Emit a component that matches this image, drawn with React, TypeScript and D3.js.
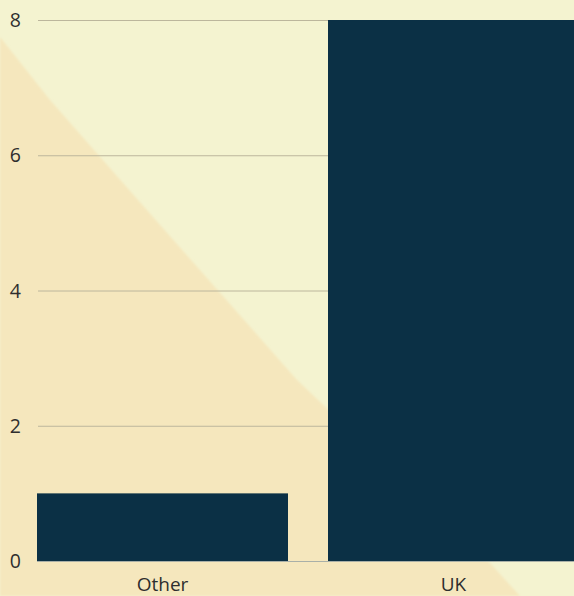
import React from "react";
import * as d3 from "d3";

const categories = ["Other", "UK"];
const values = [1, 8];
const yTicks = [0, 2, 4, 6, 8];

const W = 574;
const H = 596;

export default function App() {
  const x = d3.scaleBand<string>().domain(categories).range([37, 579]).paddingInner(0.1375).paddingOuter(0);
  const y = d3.scaleLinear().domain([0, 8]).range([561, 20]);

  const bgPts: [number, number][] = [
    [0, 37], [50, 100], [138, 200], [297, 380], [490, 563], [520, 596], [0, 596],
  ];
  const bgPath = d3.line()(bgPts) + "Z";

  return (
    <svg
      width={W}
      height={H}
      style={{ position: "fixed", left: 0, top: 0, display: "block" }}
      fontFamily="'Open Sans', 'Noto Sans', sans-serif"
    >
      <defs>
        <filter id="soft" x="-5%" y="-5%" width="110%" height="110%">
          <feGaussianBlur stdDeviation="1.2" />
        </filter>
      </defs>
      <rect x={0} y={0} width={W} height={H} fill="#f4f3d0" />
      <path d={bgPath} fill="#f5e7bd" filter="url(#soft)" />
      {yTicks.map((t) => (
        <g key={t}>
          {t !== 0 && (
            <line x1={38} x2={W} y1={y(t) + 0.5} y2={y(t) + 0.5} stroke="#bcb69c" strokeWidth={1} />
          )}
          <text x={21} y={y(t)} dy="0.36em" textAnchor="end" fontSize={19.5} fill="#2e2e2e">
            {t}
          </text>
        </g>
      ))}
      {categories.map((c, i) => (
        <rect
          key={c}
          x={x(c)!}
          y={y(values[i])}
          width={x.bandwidth()}
          height={y(0) - y(values[i])}
          fill="#0b3045"
        />
      ))}
      <line x1={37} x2={W} y1={561.5} y2={561.5} stroke="#a9b0a8" strokeWidth={1} />
      {categories.map((c) => (
        <text
          key={c}
          x={x(c)! + x.bandwidth() / 2}
          y={591}
          textAnchor="middle"
          fontSize={19}
          fill="#2e2e2e"
        >
          {c}
        </text>
      ))}
    </svg>
  );
}
